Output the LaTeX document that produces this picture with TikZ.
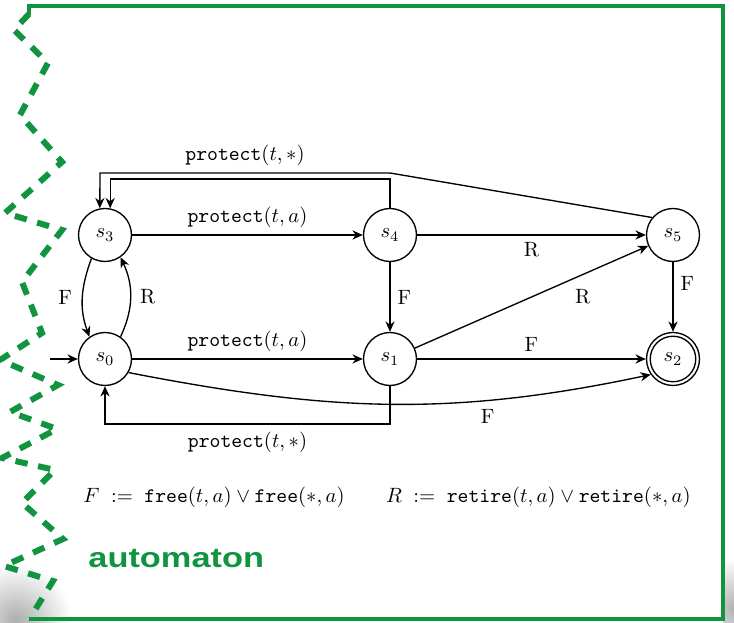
\documentclass[tikz,border=0pt]{standalone}
\usepackage{fontspec}
\newfontfamily\slidefont{Liberation Sans}
\usetikzlibrary{arrows.meta}
\definecolor{slgreen}{RGB}{16,148,64}
\begin{document}
\begin{tikzpicture}[x=0.4831pt, y=-0.4831pt,
  state/.style={circle, draw, line width=0.65pt, minimum size=25.6pt, inner sep=0pt},
  edge/.style={line width=0.65pt, -{Stealth[length=5pt,width=4.4pt,inset=1.6pt]}},
  plain/.style={line width=0.65pt},
  frame/.style={slgreen, line width=2.4pt},
  tear/.style={slgreen, line width=2.9pt, dash pattern=on 6pt off 5.2pt},
  lbl/.style={font=\normalsize}]
\useasboundingbox (0,0) rectangle (734,623);
% shadows
\shade[inner color=black!32, outer color=white] (16,620) circle (27pt);
\begin{scope}
  \clip (723,540) rectangle (734,623);
  \shade[inner color=black!30, outer color=white] (734,608) circle (24pt);
\end{scope}
% frame
\draw[frame, line join=miter] (29,15) -- (29,6) -- (723,6) -- (723,619) -- (29,619);
\draw[tear] (29,14) -- (14,30) -- (48,63) -- (20,115) -- (62,162) -- (5,213) -- (62,230)
  -- (22,282) -- (42,333) -- (0,360) -- (58,385) -- (10,412) -- (57,429) -- (2,458)
  -- (55,470) -- (22,503) -- (63,539) -- (4,566) -- (53,581) -- (30,618);
% states
\node[state] (s3) at (105,235) {$s_3$};
\node[state] (s4) at (390,235) {$s_4$};
\node[state] (s5) at (673,235) {$s_5$};
\node[state] (s0) at (105,359) {$s_0$};
\node[state] (s1) at (390,359) {$s_1$};
\node[state] (s2) at (673,359) {$s_2$};
\draw[plain] (s2.center) circle (11pt);
\coordinate (init) at (50,359);
% edges
\draw[edge] (init) -- (s0);
\draw[edge] (s3) -- node[above]{\texttt{protect}$(t,a)$} (s4);
\draw[edge] (s0) -- node[above]{\texttt{protect}$(t,a)$} (s1);
\draw[edge] (s4) -- node[below]{R} (s5);
\draw[edge] (s4) -- node[right]{F} (s1);
\draw[edge] (s5) -- node[pos=0.3, right]{F} (s2);
\draw[edge] (s1) -- node[above]{F} (s2);
\draw[edge] (s1) -- node[pos=0.72, below=3.5pt]{R} (s5);
\draw[edge] (s0.-30) to[out=-11, in=192] node[pos=0.7, below=1pt]{F} (s2.-145);
\draw[edge] (s3.-120) to[out=-110, in=110] node[left=1.5pt]{F} (s0.125);
\draw[edge] (s0.55) to[out=65, in=-65] node[right=1pt]{R} (s3.-55);
\draw[edge] (s1.south) -- (390,424) -- node[below]{\texttt{protect}$(t,*)$} (105,424) -- (s0.south);
\draw[edge] (s5.140) -- (390,173) -- node[above]{\texttt{protect}$(t,*)$} (100,173) -- (s3.101);
\draw[edge] (s4.north) -- (390,179) -| (s3.79);
% definitions
\node (defs) at (387,497) {$F \;:=\; \texttt{free}(t,a) \vee \texttt{free}(*,a) \qquad R \;:=\; \texttt{retire}(t,a) \vee \texttt{retire}(*,a)$};
\node[anchor=base west, inner sep=0pt, text=slgreen] (title) at (88,568) {\scalebox{1.23}[1]{\slidefont\bfseries\fontsize{13.5}{16}\selectfont automaton}};
\end{tikzpicture}
\end{document}
